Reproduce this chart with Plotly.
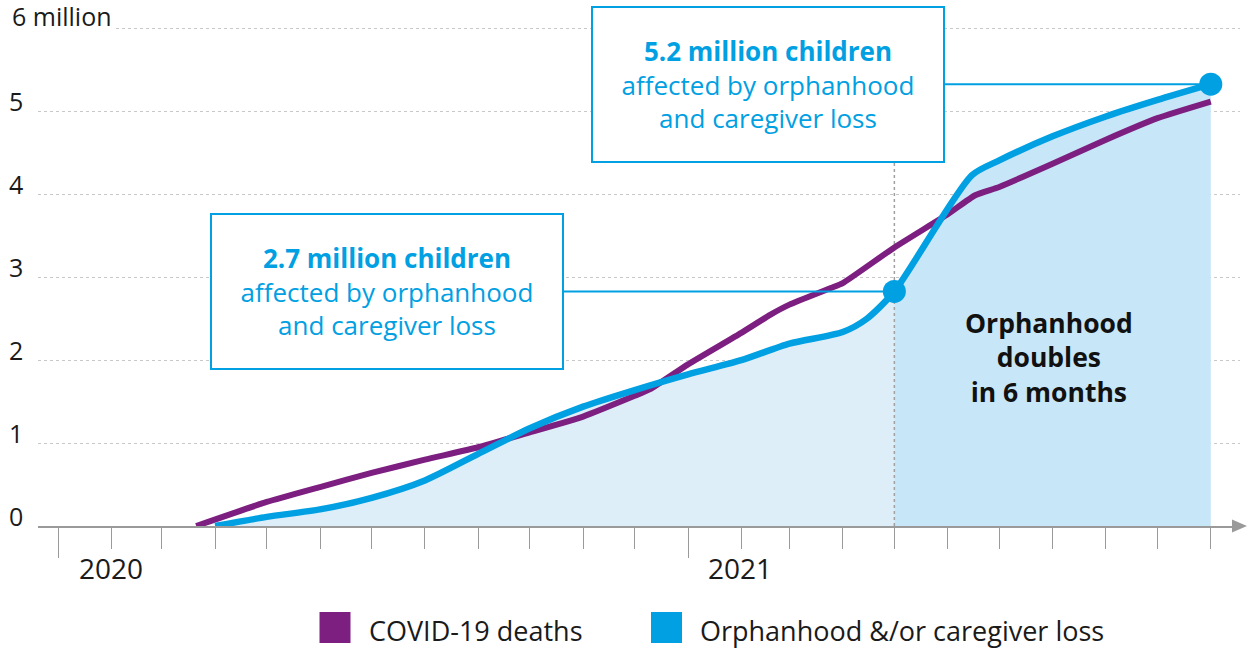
import plotly.graph_objects as go

# ---------------- data ----------------
deaths_dates = ["2020-03-21", "2020-05-01", "2020-06-01", "2020-07-01",
                "2020-08-01", "2020-09-01", "2020-10-01", "2020-11-01", "2020-12-01",
                "2020-12-10", "2021-01-01", "2021-02-01", "2021-02-18", "2021-03-01",
                "2021-03-25", "2021-04-01", "2021-05-01", "2021-06-01", "2021-06-17",
                "2021-07-01", "2021-08-01", "2021-09-01", "2021-10-01", "2021-11-01"]
deaths_values = [0.0, 0.29, 0.47, 0.64,
                 0.80, 0.95, 1.13, 1.32, 1.57,
                 1.65, 1.95, 2.33, 2.55, 2.67,
                 2.87, 2.93, 3.36, 3.76, 3.99,
                 4.09, 4.37, 4.66, 4.92, 5.12]

orphan_dates = ["2020-04-01", "2020-05-01", "2020-06-01", "2020-07-01", "2020-08-01",
                "2020-09-01", "2020-10-01", "2020-11-01", "2020-12-01", "2021-01-01",
                "2021-02-01", "2021-03-01", "2021-04-01", "2021-04-15", "2021-05-01",
                "2021-06-15", "2021-07-01", "2021-08-01", "2021-09-01", "2021-10-01",
                "2021-11-01"]
orphan_values = [0.0, 0.11, 0.20, 0.34, 0.55,
                 0.87, 1.18, 1.44, 1.64, 1.83,
                 2.00, 2.20, 2.34, 2.50, 2.83,
                 4.23, 4.41, 4.70, 4.94, 5.14,
                 5.33]

milestone_dates = ["2021-05-01", "2021-11-01"]
milestone_labels = ["<b>2.7 million children</b><br>affected by orphanhood<br>and caregiver loss",
                    "<b>5.2 million children</b><br>affected by orphanhood<br>and caregiver loss"]

y_tick_values = [0, 1, 2, 3, 4, 5, 6]
y_tick_labels = ["0", "1", "2", "3", "4", "5", "6 million"]
year_tick_dates = ["2020-01-01", "2021-01-01"]
year_tick_labels = ["2020", "2021"]
legend_names = ["COVID-19 deaths", "Orphanhood &amp;/or caregiver loss"]

# ---------------- styling ----------------
PURPLE = "#7d1f80"
BLUE = "#00a0e2"
FILL_LIGHT = "#ddeef9"
FILL_DARK = "#c7e6f7"
GRID = "#c8c8c8"
AXIS = "#9a9a9a"
FONT = "Open Sans"

W, H = 1248, 649
L, R, T, B = 38, 8, 12, 123
PW, PH = W - L - R, H - T - B


def px_x(px):
    return (px - L) / PW


def px_y(py):
    return (H - B - py) / PH


split = orphan_dates.index(milestone_dates[0])
milestone_values = [orphan_values[orphan_dates.index(d)] for d in milestone_dates]

fig = go.Figure()

# area fills under the orphanhood curve
fig.add_trace(go.Scatter(x=orphan_dates[:split + 1], y=orphan_values[:split + 1],
                         mode="lines", line=dict(width=0, color=FILL_LIGHT, shape="spline", smoothing=0.7),
                         fill="tozeroy", fillcolor=FILL_LIGHT, hoverinfo="skip", showlegend=False))
fig.add_trace(go.Scatter(x=orphan_dates[split:], y=orphan_values[split:],
                         mode="lines", line=dict(width=0, color=FILL_DARK, shape="spline", smoothing=0.7),
                         fill="tozeroy", fillcolor=FILL_DARK, hoverinfo="skip", showlegend=False))

# dotted divider at the first milestone
fig.add_trace(go.Scatter(x=[milestone_dates[0], milestone_dates[0]], y=[0, 4.38],
                         mode="lines", line=dict(color="#a0a0a0", width=1.5, dash="dot"),
                         hoverinfo="skip", showlegend=False))

fig.add_trace(go.Scatter(x=deaths_dates, y=deaths_values, mode="lines", name=legend_names[0],
                         line=dict(color=PURPLE, width=6, shape="spline", smoothing=0.5),
                         showlegend=False))
fig.add_trace(go.Scatter(x=orphan_dates, y=orphan_values, mode="lines", name=legend_names[1],
                         line=dict(color=BLUE, width=6.5, shape="spline", smoothing=0.7),
                         showlegend=False))
fig.add_trace(go.Scatter(x=milestone_dates, y=milestone_values, mode="markers",
                         marker=dict(color=BLUE, size=23), hoverinfo="skip", showlegend=False))

annotations = []
# milestone boxes with connectors
for d, v, txt, ax in zip(milestone_dates, milestone_values, milestone_labels, [-507, -443]):
    annotations.append(dict(x=d, y=v, xref="x", yref="y", ax=ax, ay=0,
                            text=txt, showarrow=True, arrowhead=0, arrowwidth=2,
                            arrowcolor=BLUE, standoff=0, startstandoff=0,
                            width=350, height=153, align="center", valign="middle",
                            bordercolor=BLUE, borderwidth=2, borderpad=0, bgcolor="white",
                            font=dict(family=FONT, size=26, color=BLUE)))

annotations.append(dict(x="2021-08-01", y=2.03, xref="x", yref="y", xshift=-4,
                        text="<b>Orphanhood<br>doubles<br>in 6 months</b>", showarrow=False,
                        align="center", font=dict(family=FONT, size=26.5, color="#111111")))

# y labels sitting above the gridlines
for v, t in zip(y_tick_values, y_tick_labels):
    annotations.append(dict(x=px_x(8), y=v, xref="paper", yref="y", xanchor="left",
                            yanchor="bottom", yshift=-8, text=t, showarrow=False,
                            bgcolor="white" if v == 6 else None, borderpad=3 if v == 6 else 0,
                            font=dict(family=FONT, size=25, color="#1a1a1a")))

# year labels
for d, t in zip(year_tick_dates, year_tick_labels):
    annotations.append(dict(x=d, y=0, xref="x", yref="paper", xanchor="left", yanchor="top",
                            xshift=18, yshift=-21, text=t, showarrow=False,
                            font=dict(family=FONT, size=28, color="#1a1a1a")))

# legend
shapes = []
legend_items = [(319.5, PURPLE, legend_names[0]), (651, BLUE, legend_names[1])]
for x0, col, name in legend_items:
    shapes.append(dict(type="rect", xref="paper", yref="paper",
                       x0=px_x(x0), x1=px_x(x0 + 31), y0=px_y(643), y1=px_y(612),
                       fillcolor=col, line=dict(width=0)))
    annotations.append(dict(x=px_x(x0 + 47), y=px_y(630), xref="paper", yref="paper",
                            xanchor="left", yanchor="middle", text=name, showarrow=False,
                            font=dict(family=FONT, size=27, color="#1a1a1a")))

# axis arrow head
shapes.append(dict(type="path", xref="paper", yref="paper",
                   path=f"M {px_x(1232)} {px_y(519.5)} L {px_x(1247)} {px_y(526)} L {px_x(1232)} {px_y(532.5)} Z",
                   fillcolor=AXIS, line=dict(width=0)))

fig.update_layout(
    width=W, height=H,
    margin=dict(l=L, r=R, t=T, b=B),
    paper_bgcolor="white", plot_bgcolor="white",
    font=dict(family=FONT, color="#1a1a1a"),
    annotations=annotations, shapes=shapes,
    xaxis=dict(type="date", range=["2019-12-20", "2021-11-18"],
               showgrid=False, zeroline=False, showline=True, linecolor=AXIS, linewidth=1.5,
               ticks="outside", ticklen=30, tickwidth=1, tickcolor=AXIS,
               dtick="M12", tick0="2020-01-01", showticklabels=False,
               minor=dict(dtick="M1", tick0="2020-01-01", ticks="outside", ticklen=21,
                          tickwidth=1, tickcolor=AXIS, showgrid=False)),
    yaxis=dict(range=[0, 6.2], tickvals=y_tick_values, showticklabels=False,
               showgrid=True, gridcolor=GRID, griddash="dot", gridwidth=1,
               zeroline=False, showline=False),
    hovermode=False,
)

fig.write_html("out.html", config={"displayModeBar": False},
               post_script="document.body.style.margin='0';")
